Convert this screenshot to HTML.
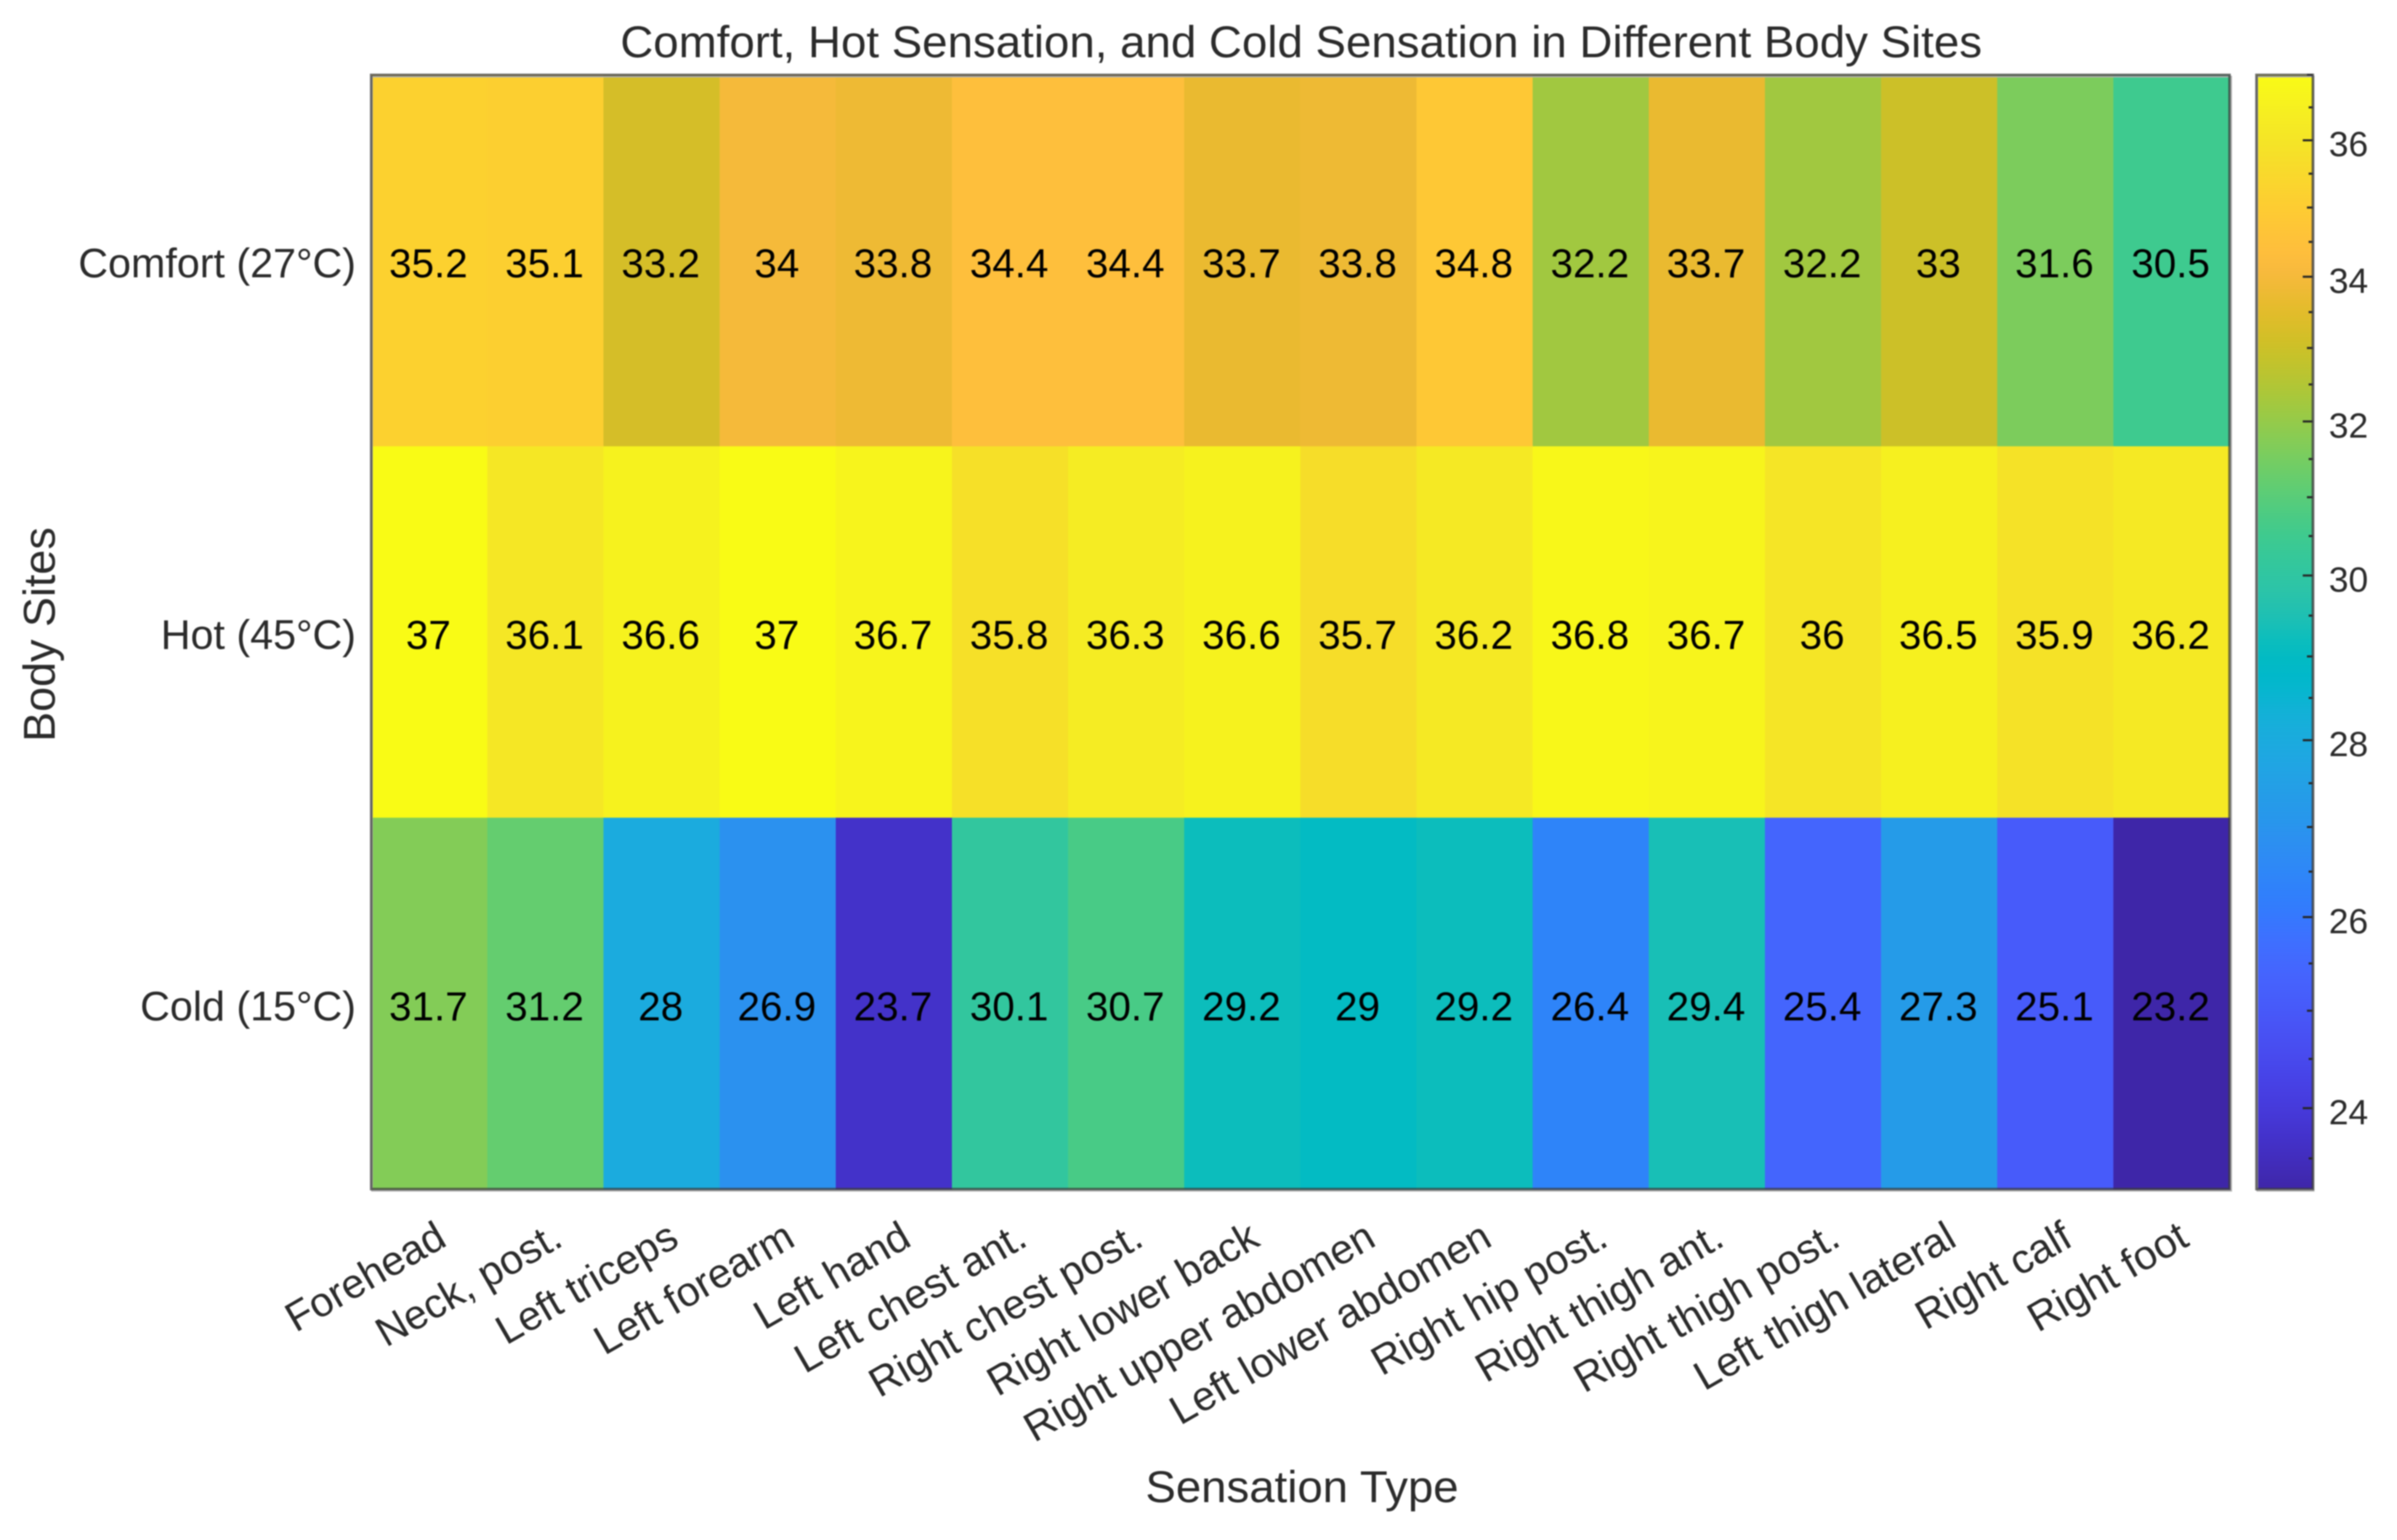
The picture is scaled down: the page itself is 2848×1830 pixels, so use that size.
<!DOCTYPE html>
<html lang="en">
<head>
<meta charset="utf-8">
<title>Comfort, Hot Sensation, and Cold Sensation in Different Body Sites</title>
<style>
html,body{margin:0;padding:0;background:#fff;width:2848px;height:1830px;overflow:hidden}
svg{display:block;filter:blur(.7px)}
text{font-family:"Liberation Sans",Arial,sans-serif;fill:#2b2b2b}
</style>
</head>
<body>
<svg id="chart" xmlns="http://www.w3.org/2000/svg" width="2848" height="1830" viewBox="0 0 2848 1830">
  <defs>
    <linearGradient id="cbGrad" x1="0" y1="1" x2="0" y2="0"></linearGradient>
  </defs>
  <rect width="2848" height="1830" fill="#fff"/>
  <g id="cells"></g>
  <g id="cellLabels"></g>
  <rect x="442" y="91" width="2209" height="1324" fill="none" stroke="#b4b4b4" stroke-width="2"/>
  <rect x="441" y="89" width="2208" height="1324" fill="none" stroke="#3a3a3a" stroke-opacity=".72" stroke-width="3"/>
  <g id="yTicks"></g>
  <g id="xTicks"></g>
  <rect x="2681" y="89" width="67" height="1324" fill="url(#cbGrad)"/>
  <g id="cbTicks"></g>
  <rect x="2682" y="91" width="67" height="1324" fill="none" stroke="#b4b4b4" stroke-width="2"/>
  <rect x="2681" y="89" width="67" height="1324" fill="none" stroke="#3a3a3a" stroke-opacity=".72" stroke-width="3"/>
  <g id="cbLabels"></g>
  <text x="1546" y="68" text-anchor="middle" font-size="53" textLength="1618" lengthAdjust="spacingAndGlyphs">Comfort, Hot Sensation, and Cold Sensation in Different Body Sites</text>
  <text x="1547" y="1785" text-anchor="middle" font-size="53" textLength="372" lengthAdjust="spacingAndGlyphs">Sensation Type</text>
  <text transform="translate(65,754) rotate(-90)" text-anchor="middle" font-size="53" textLength="255" lengthAdjust="spacingAndGlyphs">Body Sites</text>
</svg>
<script>
const categories = ["Forehead","Neck, post.","Left triceps","Left forearm","Left hand","Left chest ant.","Right chest post.","Right lower back","Right upper abdomen","Left lower abdomen","Right hip post.","Right thigh ant.","Right thigh post.","Left thigh lateral","Right calf","Right foot"];
const rowLabels = ["Comfort (27°C)","Hot (45°C)","Cold (15°C)"];
const comfortValues = [35.2,35.1,33.2,34,33.8,34.4,34.4,33.7,33.8,34.8,32.2,33.7,32.2,33,31.6,30.5];
const hotValues = [37,36.1,36.6,37,36.7,35.8,36.3,36.6,35.7,36.2,36.8,36.7,36,36.5,35.9,36.2];
const coldValues = [31.7,31.2,28,26.9,23.7,30.1,30.7,29.2,29,29.2,26.4,29.4,25.4,27.3,25.1,23.2];
const colorbarTickLabels = [24,26,28,30,32,34,36];

const parula = [[.2422,.1504,.6603],[.2504,.165,.7076],[.2578,.1818,.7511],[.2647,.1978,.7952],[.2706,.2147,.8364],[.2751,.2342,.871],[.2783,.2559,.8991],[.2803,.2782,.9221],[.2813,.3006,.9414],[.281,.3228,.9579],[.2795,.3447,.9717],[.276,.3667,.9829],[.2699,.3892,.9906],[.2602,.4123,.9952],[.244,.4358,.9988],[.2206,.4603,.9973],[.1963,.4847,.9892],[.1834,.5074,.9798],[.1786,.5289,.9682],[.1764,.5499,.952],[.1687,.5703,.9359],[.154,.5902,.9218],[.146,.6091,.9079],[.138,.6276,.8973],[.1248,.6459,.8883],[.1113,.6635,.8763],[.0952,.6798,.8598],[.0689,.6948,.8394],[.0297,.7082,.8163],[.0036,.7203,.7917],[.0067,.7312,.766],[.0433,.7411,.7394],[.0964,.75,.712],[.1408,.7584,.6842],[.1717,.767,.6554],[.1938,.7758,.6251],[.2161,.7843,.5923],[.247,.7918,.5567],[.2906,.7973,.5188],[.3406,.8008,.4789],[.3909,.8029,.4354],[.4456,.8024,.3909],[.5044,.7993,.348],[.5616,.7942,.3045],[.6174,.7876,.2612],[.672,.7793,.2227],[.7242,.7698,.191],[.7738,.7598,.1646],[.8203,.7498,.1535],[.8634,.7406,.1596],[.9035,.733,.1774],[.9393,.7288,.21],[.9728,.7298,.2394],[.9956,.7434,.2371],[.997,.7659,.2199],[.9952,.7893,.2028],[.9892,.8136,.1885],[.9786,.8386,.1766],[.9676,.8639,.1643],[.961,.889,.1537],[.9597,.9135,.1423],[.9628,.9373,.1265],[.9691,.9606,.1064],[.9769,.9839,.0805]];

const matrix = [comfortValues, hotValues, coldValues];
const allValues = matrix.flat();
const cMin = Math.min.apply(null, allValues);
const cMax = Math.max.apply(null, allValues);

const plotL = 441, plotR = 2649, plotT = 89, plotB = 1413;
const cbL = 2681, cbR = 2748;

function xScale(i){ return plotL + (plotR - plotL) * i / categories.length; }
function yScale(j){ return plotT + (plotB - plotT) * j / rowLabels.length; }
function logFrac(v){ return (Math.log(v) - Math.log(cMin)) / (Math.log(cMax) - Math.log(cMin)); }
function cbY(v){ return plotB - (plotB - plotT) * logFrac(v); }
function colorAt(t){
  t = Math.max(0, Math.min(1, t));
  const p = t * (parula.length - 1), a = Math.floor(p), b = Math.min(a + 1, parula.length - 1), f = p - a;
  const c = [0,1,2].map(function(k){ return Math.round(255 * (parula[a][k] * (1 - f) + parula[b][k] * f)); });
  return "rgb(" + c.join(",") + ")";
}

const NS = "http://www.w3.org/2000/svg";
function mk(tag, parentId, attrs, txt){
  const el = document.createElementNS(NS, tag);
  Object.keys(attrs).forEach(function(k){ el.setAttribute(k, attrs[k]); });
  if (txt !== undefined) el.textContent = txt;
  document.getElementById(parentId).appendChild(el);
  return el;
}

matrix.forEach(function(row, j){
  row.forEach(function(v, i){
    const x0 = xScale(i), x1 = xScale(i + 1), y0 = yScale(j), y1 = yScale(j + 1);
    const cell = mk("rect", "cells", {x:x0, y:y0, width:x1 - x0 + .5, height:y1 - y0 + .5, fill:colorAt(logFrac(v))});
    
    
    const lab = mk("text", "cellLabels", {x:(x0 + x1) / 2 - 1, y:(y0 + y1) / 2 + 20, "text-anchor":"middle", "font-size":48, style:"fill:#000"}, String(v));
    
    
  });
});

rowLabels.forEach(function(name, j){
  const t = mk("text", "yTicks", {x:423, y:(yScale(j) + yScale(j + 1)) / 2 + 20, "text-anchor":"end", "font-size":49}, name);
  
  
});

categories.forEach(function(name, i){
  const px = (xScale(i) + xScale(i + 1)) / 2 + 23;
  const t = mk("text", "xTicks", {transform:"translate(" + px + ",1479) rotate(-30)", "text-anchor":"end", "font-size":49}, name);
  
  
});

const grad = document.getElementById("cbGrad");
parula.forEach(function(c, k){
  const s = document.createElementNS(NS, "stop");
  s.setAttribute("offset", k / (parula.length - 1));
  s.setAttribute("stop-color", colorAt(k / (parula.length - 1)));
  grad.appendChild(s);
});

for (let v = Math.ceil(cMin * 2) / 2; v <= cMax; v += .5) {
  const len = v % 2 === 0 ? 12 : (v % 1 === 0 ? 7 : 5);
  const tick = mk("line", "cbTicks", {x1:cbR - len, x2:cbR, y1:cbY(v), y2:cbY(v), stroke:"#262626", "stroke-width":2.5});
  
  
}

colorbarTickLabels.forEach(function(v){
  const t = mk("text", "cbLabels", {x:2767, y:cbY(v) + 19, "font-size":42}, String(v));
  
  
});
</script>
</body>
</html>
